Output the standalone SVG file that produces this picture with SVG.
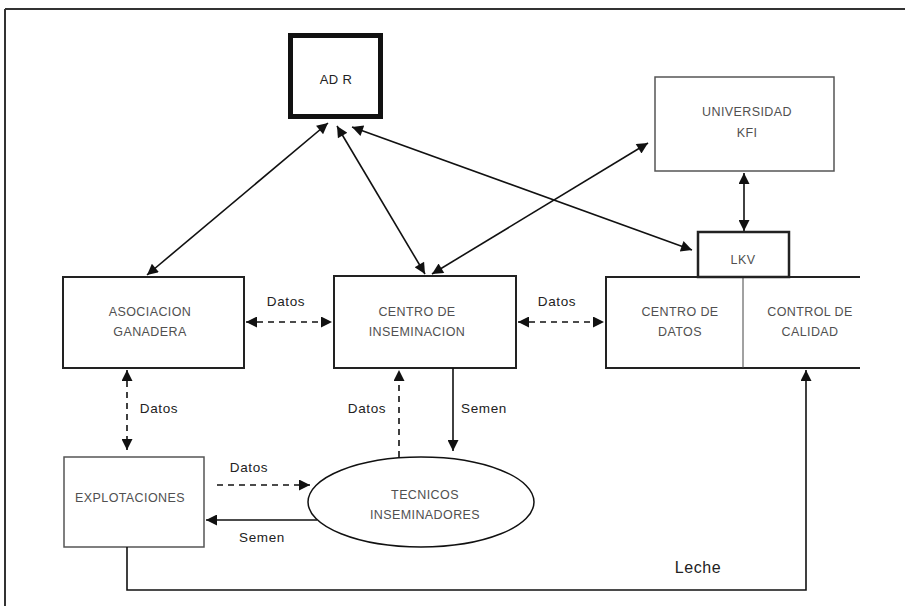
<svg xmlns="http://www.w3.org/2000/svg" width="905" height="606" viewBox="0 0 905 606">
<style>
.box{fill:#fff;stroke:#222;stroke-width:2}
.thin{fill:#fff;stroke:#555;stroke-width:1.5}
.ln{fill:none;stroke:#111;stroke-width:1.6}
.dash{stroke-dasharray:6 5}
.nt{font-family:"Liberation Sans",Arial,sans-serif;font-size:12.5px;fill:#505050;text-anchor:middle;letter-spacing:0.4px}
.lb{font-family:"Liberation Sans",Arial,sans-serif;font-size:13.5px;fill:#222;text-anchor:middle;letter-spacing:0.6px}
</style>
<defs>
<marker id="ah" viewBox="0 0 10 10" refX="10" refY="5" markerWidth="16" markerHeight="11" markerUnits="userSpaceOnUse" orient="auto-start-reverse">
<path d="M0,0 L10,5 L0,10 z" fill="#111"/>
</marker>
</defs>
<rect width="905" height="606" fill="#fff"/>
<g id="frame">
<line x1="5" y1="9" x2="905" y2="9" stroke="#333" stroke-width="2"/>
<line x1="5" y1="9" x2="5" y2="606" stroke="#333" stroke-width="2"/>
</g>
<g id="adr">
<rect x="290.5" y="35.5" width="90" height="81" fill="#fff" stroke="#111" stroke-width="5"/>
<text class="nt" x="336" y="84" style="font-size:13px;fill:#222">AD R</text>
</g>
<g id="universidad">
<rect class="thin" x="655" y="77" width="179" height="94"/>
<text class="nt" x="747" y="116">UNIVERSIDAD</text>
<text class="nt" x="747" y="137">KFI</text>
</g>
<g id="centro-datos">
<path d="M860,277 H606 V368 H860" fill="#fff" stroke="#222" stroke-width="2"/>
<line x1="743" y1="277" x2="743" y2="368" stroke="#444" stroke-width="1"/>
<text class="nt" x="680" y="316">CENTRO DE</text>
<text class="nt" x="680" y="336">DATOS</text>
<text class="nt" x="810" y="316">CONTROL DE</text>
<text class="nt" x="810" y="336">CALIDAD</text>
</g>
<g id="lkv">
<rect x="698" y="232" width="91" height="45" fill="#fff" stroke="#222" stroke-width="2.5"/>
<text class="nt" x="743" y="264">LKV</text>
</g>
<g id="asociacion">
<rect class="box" x="63" y="277" width="181" height="91"/>
<text class="nt" x="150" y="316">ASOCIACION</text>
<text class="nt" x="150" y="336">GANADERA</text>
</g>
<g id="centro-inseminacion">
<rect class="box" x="334" y="276" width="182" height="92"/>
<text class="nt" x="417" y="316">CENTRO DE</text>
<text class="nt" x="417" y="336">INSEMINACION</text>
</g>
<g id="explotaciones">
<rect class="thin" x="64" y="457" width="140" height="90"/>
<text class="nt" x="130" y="502">EXPLOTACIONES</text>
</g>
<g id="tecnicos">
<ellipse cx="421" cy="502" rx="113" ry="45" fill="#fff" stroke="#111" stroke-width="1.5"/>
<text class="nt" x="425" y="499">TECNICOS</text>
<text class="nt" x="425" y="519">INSEMINADORES</text>
</g>
<g id="connectors">
<line class="ln" x1="328" y1="123" x2="147" y2="275" marker-start="url(#ah)" marker-end="url(#ah)"/>
<line class="ln" x1="337" y1="126" x2="425" y2="274" marker-start="url(#ah)" marker-end="url(#ah)"/>
<line class="ln" x1="352" y1="127" x2="692" y2="250" marker-start="url(#ah)" marker-end="url(#ah)"/>
<line class="ln" x1="432" y1="274" x2="648" y2="143" marker-start="url(#ah)" marker-end="url(#ah)"/>
<line class="ln" x1="744" y1="173" x2="744" y2="231" marker-start="url(#ah)" marker-end="url(#ah)"/>
<line class="ln dash" x1="246" y1="322" x2="332" y2="322" marker-start="url(#ah)" marker-end="url(#ah)"/>
<line class="ln dash" x1="518" y1="322" x2="604" y2="322" marker-start="url(#ah)" marker-end="url(#ah)"/>
<line class="ln dash" x1="127" y1="370" x2="127" y2="450" marker-start="url(#ah)" marker-end="url(#ah)"/>
<line class="ln dash" x1="217" y1="485" x2="310" y2="485" marker-end="url(#ah)"/>
<line class="ln" x1="317" y1="520" x2="206" y2="520" marker-end="url(#ah)"/>
<line class="ln dash" x1="399" y1="457" x2="399" y2="370" marker-end="url(#ah)"/>
<line class="ln" x1="453" y1="368" x2="453" y2="451" marker-end="url(#ah)"/>
<polyline class="ln" points="127,547 127,590 806,590 806,370" stroke-width="2" marker-end="url(#ah)"/>
</g>
<g id="labels">
<text class="lb" x="286" y="306">Datos</text>
<text class="lb" x="557" y="306">Datos</text>
<text class="lb" x="159" y="413">Datos</text>
<text class="lb" x="367" y="413">Datos</text>
<text class="lb" x="484" y="413">Semen</text>
<text class="lb" x="249" y="472">Datos</text>
<text class="lb" x="262" y="542">Semen</text>
<text class="lb" x="698" y="573" style="font-size:16px">Leche</text>
</g>
</svg>
